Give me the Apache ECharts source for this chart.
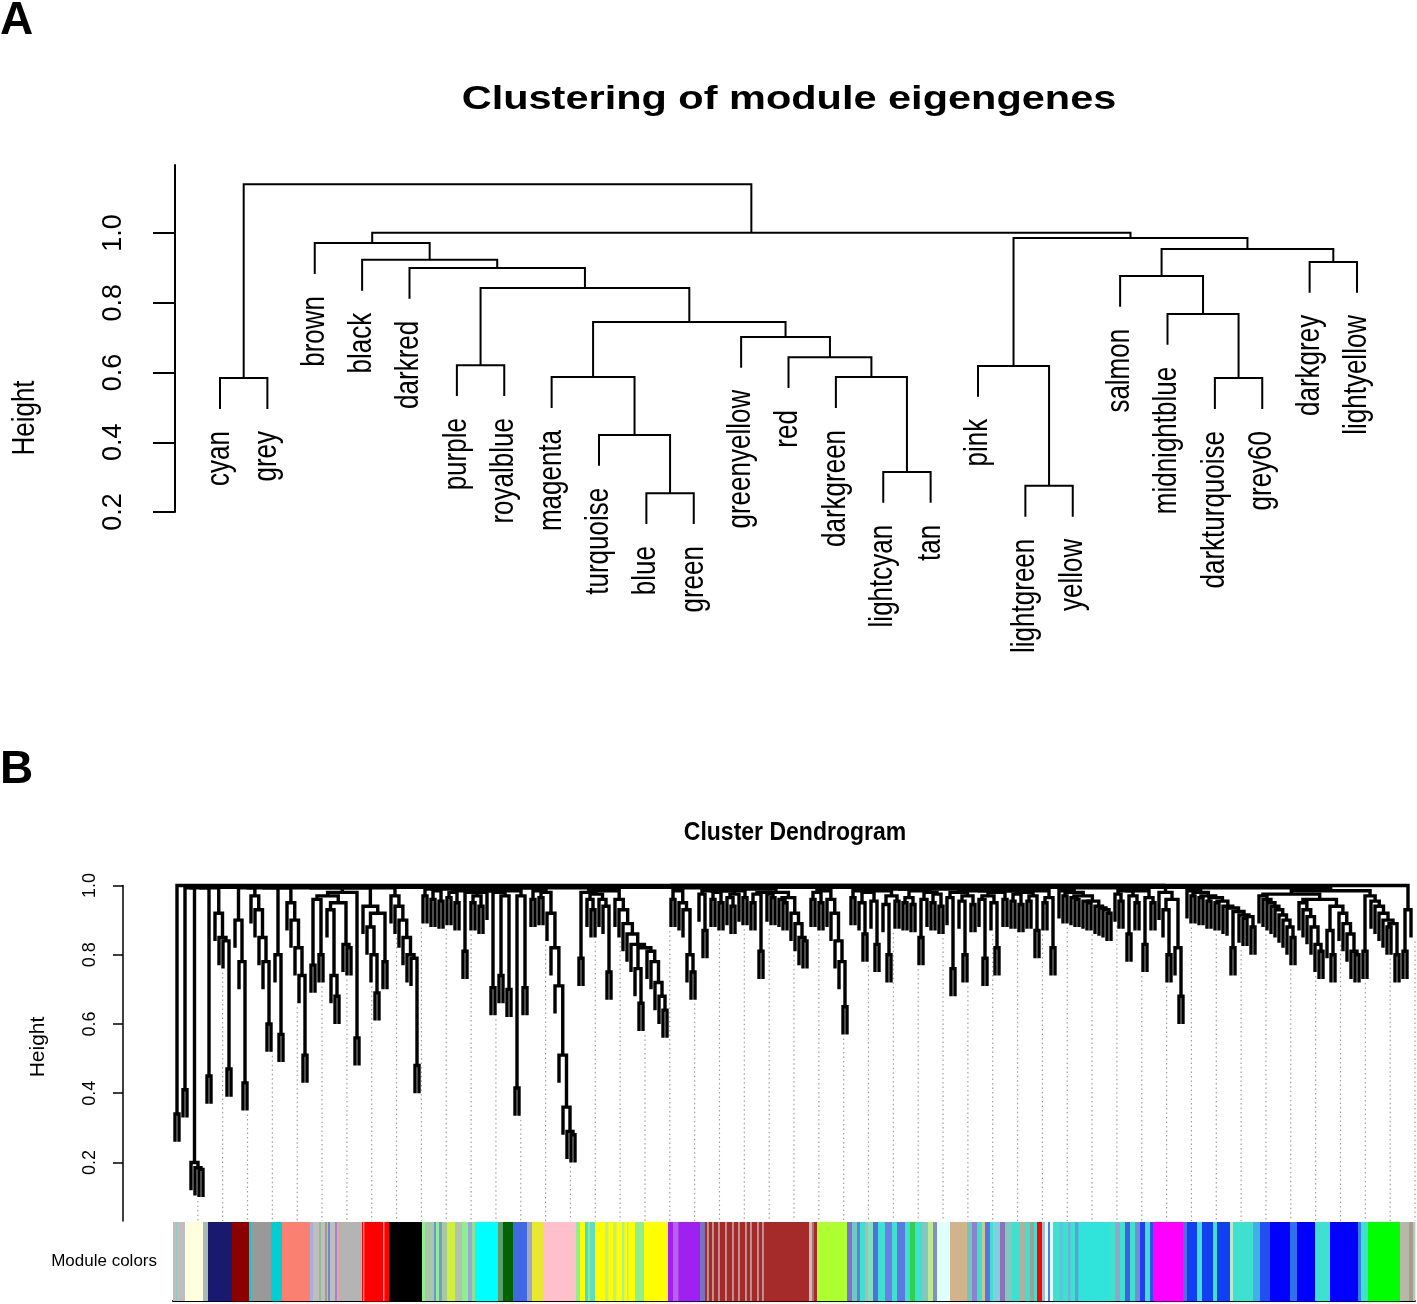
<!DOCTYPE html>
<html>
<head>
<meta charset="utf-8">
<script src="https://cdn.jsdelivr.net/npm/echarts@6/dist/echarts.min.js"></script>
<style>
html,body{margin:0;padding:0;background:#fff}
#chart{width:1417px;height:1304px}
</style>
</head>
<body>
<div id="chart"></div>
<script>
// ---- panel A : clustering of module eigengenes ----
var moduleNames = ['cyan','grey','brown','black','darkred','purple','royalblue','magenta',
  'turquoise','blue','green','greenyellow','red','darkgreen','lightcyan','tan','pink',
  'lightgreen','yellow','salmon','midnightblue','darkturquoise','grey60','darkgrey','lightyellow'];
// R hclust style: negative = leaf (1-based, plotted order), positive = earlier merge
var eigenMerges = [[-10,-11],[-18,-19],[-15,-16],[-9,1],[-1,-2],[-22,-23],[-8,4],[-14,3],
  [-17,2],[-6,-7],[-13,8],[-12,11],[7,12],[-21,6],[10,13],[-20,14],[-5,15],[-24,-25],
  [-4,17],[16,18],[-3,19],[9,20],[21,22],[5,23]];
var eigenHeights = [0.254,0.275,0.315,0.421,0.584,0.584,0.587,0.587,0.619,0.621,0.644,
  0.702,0.745,0.768,0.842,0.877,0.900,0.917,0.923,0.954,0.971,0.986,1.001,1.140];
var eigenTicks = [0.2,0.4,0.6,0.8,1.0];

// ---- panel B : gene cluster dendrogram ----
// height at which neighbouring tree columns join (left to right)
var gapsLeft = [0.34,1.00,0.41,0.993,0.20,0.185,0.18,0.993,0.45,0.993,
  0.92,0.85,0.84,0.47,0.995,0.90,0.78,0.43,0.993,0.97,
  0.93,0.85,0.78,0.60,0.993,0.80,0.57,0.993,0.95,0.90,
  0.82,0.74,0.51,0.993,0.77,0.96,0.80,0.97,0.93,0.74,
  0.68,0.95,0.83,0.82,0.98,0.56,0.993,0.94,0.88,0.80,
  0.69,0.92,0.78,0.993,0.97,0.94,0.90,0.85,0.80,0.79,
  0.48,0.995,0.97,0.99,0.96,0.985,0.955,0.99,0.965,0.98,
  0.95,0.985,0.81,0.98,0.95,0.97,0.94,0.98,0.985,0.705,
  0.98,0.74,0.97,0.70,0.985,0.415,0.97,0.705,0.993,0.96,
  0.985,0.965,0.98,0.92,0.82,0.71,0.51,0.36,0.29,0.28];
var gapsMidLeft = [0.993,0.79,0.98,0.96,0.93,0.975,0.96,0.94,0.75,0.985,
  0.96,0.93,0.89,0.86,0.83,0.76,0.66,0.82,0.81,0.78,
  0.72,0.68,0.64,0.995,0.96,0.985,0.95,0.93,0.80,0.75,
  0.993,0.975,0.87,0.985,0.96,0.98,0.95,0.985,0.965,0.94,
  0.975,0.985,0.965,0.99,0.95,0.975,0.81,0.98,0.975,0.965,
  0.98,0.96,0.95,0.965,0.92,0.89,0.85,0.84,0.995,0.96,
  0.98,0.95,0.985,0.96,0.92,0.84,0.78,0.65,0.995];
var gapsMidRight = [0.965,0.985,0.95,0.86,0.98,0.955,0.83,0.985,0.945,0.80,
  0.97,0.955,0.99,0.95,0.965,0.945,0.985,0.85,0.96,0.98,
  0.95,0.975,0.94,0.99,0.965,0.76,0.98,0.955,0.80,0.97,
  0.945,0.985,0.96,0.79,0.97,0.95,0.82,0.98,0.96,
  0.985,0.955,0.975,0.945,0.98,0.955,0.97,0.87,0.985,0.95,0.965,0.82,
  0.995,
  0.985,0.97,0.98,0.965,0.96,0.97,0.955,0.95,0.955,0.94,0.935,0.93,0.92,
  0.993,
  0.975,0.955,0.985,0.86,0.97,0.95,0.985,0.83,0.965,0.95,
  0.995];
var gapsRight = [0.98,0.93,0.80,0.96,0.82,0.68,
  0.995,
  0.985,0.97,0.98,0.965,0.97,0.955,0.965,0.95,0.955,0.94,0.935,0.82,0.925,0.915,0.905,0.91,0.88,
  0.993,
  0.97,0.96,0.95,0.94,0.93,0.915,0.90,0.88,0.85,
  0.975,
  0.95,0.93,0.91,0.88,0.83,0.81,
  0.96,
  0.87,0.80,
  0.94,
  0.92,0.89,0.86,0.81,0.80,
  0.985,
  0.81,0.97,0.955,0.94,0.92,0.90,0.88,0.89,0.80,
  1.00,
  0.81,0.93];
var geneTicks = [0.2,0.4,0.6,0.8,1.0];
var genesPerColumn = 4;
var geneCount = 1242;
var guideCount = 50;
var leafHang = 0.08;
// module colour bar: [first gene rank, last gene rank, colour]
var moduleBlocks = [
  [0,3,'#bebebe'],[3,4,'#8fc9c0'],[4,12,'#bebebe'],[12,30,'#ffffe0'],[30,35,'#a8bdb0'],
  [35,59,'#191970'],[59,76,'#8b0000'],[76,78,'#00ced1'],[78,98,'#999999'],[98,109,'#00ced1'],
  [109,137,'#fa8072'],[137,140,'#a8b0d8'],[140,146,'#bebebe'],[146,148,'#8fbc8f'],[148,152,'#bebebe'],
  [152,154,'#a0a070'],[154,155,'#bebebe'],[155,157,'#6f86e0'],[157,162,'#bebebe'],[162,164,'#a585c0'],
  [164,166,'#d8a8b8'],[166,169,'#c0b0a0'],[169,189,'#b4b4b4'],
  [189,216,'#ff0000'],[190,191,'#ff8080'],[210,211,'#ff9090'],
  [216,249,'#000000'],
  [249,252,'#90ee90'],[252,261,'#a8c8a8'],[261,263,'#7090e0'],[263,266,'#90ee90'],[266,269,'#7a94d8'],
  [269,274,'#a8c8a0'],[274,282,'#d0f040'],[282,289,'#b0c4b0'],[289,295,'#90ee90'],[295,299,'#98a8d8'],
  [299,302,'#90e090'],[302,325,'#00ffff'],[325,330,'#5f9f6f'],[330,340,'#006400'],[340,354,'#4169e1'],
  [354,359,'#a0a8c8'],[359,370,'#e8e830'],[370,403,'#ffc0cb'],[403,407,'#90ee90'],[407,412,'#ffff00'],
  [412,415,'#40e0d0'],[415,417,'#90ee90'],[417,422,'#60dcc0'],
  [422,462,'#ffff00'],[432,435,'#c8f070'],[440,443,'#c8f070'],[449,451,'#b0ee90'],[454,455,'#b0ee90'],
  [462,471,'#90ee90'],[471,495,'#ffff00'],
  [495,527,'#a020f0'],[500,505,'#b860f0'],[527,532,'#7a70c0'],
  [532,636,'#a52a2a'],[534,535.5,'#c49494'],[539,540.5,'#c49494'],[545,546.5,'#c49494'],[552,553.5,'#c49494'],
  [559,560.5,'#c49494'],[565,566.5,'#c49494'],[572,573.5,'#c49494'],[577,578.5,'#c49494'],[584,585.5,'#c49494'],
  [589,590.5,'#c49494'],
  [636,639,'#c0c0c0'],[639,641,'#b07070'],[641,644,'#a52a2a'],[644,674,'#adff2f'],
  [674,679,'#8070d0'],[679,684,'#70c8c0'],[684,687,'#6080e0'],[687,692,'#40e0d0'],[692,695,'#b0b8b8'],
  [695,700,'#80e0c0'],[700,705,'#5070e0'],[705,712,'#40e0d0'],[712,719,'#6a80e8'],[719,724,'#40e0d0'],
  [724,732,'#5a7ae0'],[732,737,'#40e0d0'],[737,742,'#30d050'],[742,749,'#40e0d0'],[749,755,'#80c8c0'],
  [755,760,'#c0e890'],[760,764,'#8090c0'],[764,777,'#e0ffff'],[777,794,'#d2b48c'],
  [794,799,'#70c8b8'],[799,804,'#9080d0'],[804,809,'#40e0d0'],[809,812,'#c8c890'],[812,817,'#6070e0'],
  [817,820,'#40e0d0'],[820,827,'#80d0e0'],[827,832,'#8c74b4'],[832,839,'#80c8c0'],[839,847,'#40e0d0'],
  [847,853,'#b0b0a0'],[853,857,'#40e0d0'],[857,861,'#a0a090'],[861,864,'#40e0d0'],[864,869,'#ff0000'],
  [869,872,'#a0c0d0'],[872,875,'#f0f8ff'],[875,877,'#5080e0'],[877,880,'#e0ffff'],
  [880,907,'#40e0d0'],[887,889,'#60c0e0'],[895,897,'#70b0e0'],[902,905,'#50a8d8'],[907,937,'#30e4dc'],
  [937,942,'#40e0d0'],[942,947,'#90a8c8'],[947,952,'#40e0d0'],[952,957,'#4060e0'],[957,962,'#40e0d0'],
  [962,967,'#7090d0'],[967,972,'#2040f0'],[972,977,'#40e0d0'],[977,980,'#3050e8'],[980,1010,'#ff00ff'],
  [1010,1014,'#5070e0'],[1014,1024,'#1040f0'],[1024,1029,'#40e0d0'],[1029,1040,'#1040f0'],[1040,1044,'#40e0d0'],
  [1044,1057,'#1040f0'],[1057,1060,'#b8e8c8'],[1060,1080,'#40e0d0'],[1080,1087,'#40b0e8'],[1087,1097,'#2050f0'],
  [1097,1117,'#0000ff'],[1117,1124,'#3070f0'],[1124,1142,'#0000ff'],[1142,1157,'#40e0d0'],[1157,1185,'#0000ff'],
  [1185,1188,'#3080e8'],[1188,1195,'#40e0d0'],[1195,1227,'#00ff00'],[1227,1236,'#b8b8a8'],[1236,1240,'#a89c88'],
  [1240,1242,'#a0d0c0']
];

var FONT = '"Liberation Sans", Arial, Helvetica, sans-serif';

// build panel A links the way plot.hclust does (node x = midpoint of its two children)
var hangA = 0.1 * (Math.max.apply(null, eigenHeights) - Math.min.apply(null, eigenHeights));
var nodeX = [], eigenLinks = [], eigenLeaves = [];
eigenMerges.forEach(function (m, k) {
  var h = eigenHeights[k];
  var ends = m.map(function (c) {
    if (c < 0) {
      eigenLeaves[-c - 1] = [-c - 1, h - hangA];
      return [-c - 1, h - hangA];
    }
    return [nodeX[c - 1], eigenHeights[c - 1]];
  });
  nodeX[k] = (ends[0][0] + ends[1][0]) / 2;
  eigenLinks.push([ends[0][0], ends[1][0], h, ends[0][1], ends[1][1]]);
});

// build panel B tree by joining the lowest neighbouring pair first
var geneGaps = gapsLeft.concat(gapsMidLeft, gapsMidRight, gapsRight);
var nCols = geneGaps.length + 1;
var clusters = [], gaps = geneGaps.slice(), colTip = [], geneLinks = [];
for (var i = 0; i < nCols; i++) clusters.push({x: i * genesPerColumn + genesPerColumn / 2, h: null, leaf: i});
while (clusters.length > 1) {
  var k = 0;
  for (var j = 1; j < gaps.length; j++) if (gaps[j] < gaps[k]) k = j;
  var g = gaps[k], L = clusters[k], R = clusters[k + 1];
  var bl = L.h === null ? g - leafHang : L.h;
  var br = R.h === null ? g - leafHang : R.h;
  if (L.h === null) colTip[L.leaf] = bl;
  if (R.h === null) colTip[R.leaf] = br;
  geneLinks.push([L.x, R.x, g, bl, br]);
  clusters.splice(k, 2, {x: (L.x + R.x) / 2, h: g});
  gaps.splice(k, 1);
}
var guides = [];
for (var q = 0; q < guideCount; q++) {
  var r = (q + 1) * geneCount / guideCount;
  var col = Math.min(nCols - 1, Math.floor(r / genesPerColumn));
  guides.push([r, colTip[col]]);
}
var bMin = 0.031;

function linkRenderer(width) {
  return function (params, api) {
    var a = api.coord([api.value(0), api.value(3)]);
    var b = api.coord([api.value(0), api.value(2)]);
    var c = api.coord([api.value(1), api.value(2)]);
    var d = api.coord([api.value(1), api.value(4)]);
    return {type: 'polyline', shape: {points: [a, b, c, d]},
      style: {stroke: '#000', fill: 'none', lineWidth: width, lineJoin: 'miter'}};
  };
}

var chart = echarts.init(document.getElementById('chart'), null, {renderer: 'canvas'});
chart.setOption({
  animation: false,
  backgroundColor: '#fff',
  grid: [
    {left: 220, top: 165, width: 1137, height: 347},
    {left: 173, top: 885.5, width: 1242, height: 335.5},
    {left: 173, top: 1222, width: 1242, height: 79}
  ],
  xAxis: [
    {gridIndex: 0, type: 'value', min: 0, max: 24, show: false},
    {gridIndex: 1, type: 'value', min: 0, max: geneCount, show: false},
    {gridIndex: 2, type: 'value', min: 0, max: geneCount,
      axisLine: {show: true, onZero: false, lineStyle: {color: '#000', width: 2}},
      axisTick: {show: false}, axisLabel: {show: false}, splitLine: {show: false}}
  ],
  yAxis: [
    {gridIndex: 0, type: 'value', min: 0.2, max: 1.195, offset: 45,
      axisLine: {show: true, onZero: false, lineStyle: {color: '#000', width: 2}},
      axisTick: {show: true, length: 22, lineStyle: {color: '#000', width: 2}, customValues: eigenTicks},
      axisLabel: {customValues: eigenTicks, rotate: 90, margin: 48, fontSize: 27, fontFamily: FONT, color: '#000',
        formatter: function (v) { return v.toFixed(1); }},
      splitLine: {show: false}},
    {gridIndex: 1, type: 'value', min: bMin, max: 1.0, offset: 50,
      axisLine: {show: true, onZero: false, lineStyle: {color: '#000', width: 1.5}},
      axisTick: {show: true, length: 10, lineStyle: {color: '#000', width: 1.5}, customValues: geneTicks},
      axisLabel: {customValues: geneTicks, rotate: 90, margin: 24, fontSize: 18, fontFamily: FONT, color: '#000',
        formatter: function (v) { return v.toFixed(1); }},
      splitLine: {show: false}},
    {gridIndex: 2, type: 'value', min: 0, max: 1, show: false}
  ],
  graphic: [
    {type: 'text', x: 0, y: 21, style: {text: 'A', fontSize: 46, fontWeight: 'bold', fontFamily: FONT, fill: '#000', verticalAlign: 'middle'}},
    {type: 'text', x: 0, y: 770, style: {text: 'B', fontSize: 46, fontWeight: 'bold', fontFamily: FONT, fill: '#000', verticalAlign: 'middle'}},
    {type: 'text', x: 789, y: 100, scaleX: 1.22, style: {text: 'Clustering of module eigengenes', fontSize: 34, fontWeight: 'bold', fontFamily: FONT, fill: '#000', align: 'center', verticalAlign: 'middle'}},
    {type: 'text', x: 25, y: 418, rotation: Math.PI / 2, scaleY: 1.24, style: {text: 'Height', fontSize: 26, fontFamily: FONT, fill: '#000', align: 'center', verticalAlign: 'middle'}},
    {type: 'text', x: 795, y: 833, scaleY: 1.1, style: {text: 'Cluster Dendrogram', fontSize: 23, fontWeight: 'bold', fontFamily: FONT, fill: '#000', align: 'center', verticalAlign: 'middle'}},
    {type: 'text', x: 38, y: 1047, rotation: Math.PI / 2, style: {text: 'Height', fontSize: 21, fontFamily: FONT, fill: '#000', align: 'center', verticalAlign: 'middle'}},
    {type: 'text', x: 157, y: 1261, style: {text: 'Module colors', fontSize: 17, fontFamily: FONT, fill: '#000', align: 'right', verticalAlign: 'middle'}}
  ],
  series: [
    {type: 'custom', xAxisIndex: 0, yAxisIndex: 0, data: eigenLinks, renderItem: linkRenderer(2)},
    {type: 'custom', xAxisIndex: 0, yAxisIndex: 0, data: eigenLeaves,
      renderItem: function (params, api) {
        var p = api.coord([api.value(0), api.value(1)]);
        return {type: 'text', x: p[0], y: p[1] + 22, rotation: Math.PI / 2, scaleY: 1.25,
          style: {text: moduleNames[params.dataIndex], fontSize: 26, fontFamily: FONT, fill: '#000',
            align: 'right', verticalAlign: 'middle'}};
      }},
    {type: 'custom', xAxisIndex: 1, yAxisIndex: 1, data: guides,
      renderItem: function (params, api) {
        var a = api.coord([api.value(0), api.value(1)]);
        var b = api.coord([api.value(0), bMin]);
        return {type: 'line', shape: {x1: a[0], y1: a[1] + 4, x2: b[0], y2: b[1]},
          style: {stroke: '#a0a0a0', lineWidth: 1.2, lineDash: [1.5, 3]}};
      }},
    {type: 'custom', xAxisIndex: 1, yAxisIndex: 1, data: geneLinks, renderItem: linkRenderer(3.4)},
    {type: 'custom', xAxisIndex: 2, yAxisIndex: 2,
      data: moduleBlocks.map(function (b) { return [b[0], b[1]]; }),
      renderItem: function (params, api) {
        var p0 = api.coord([api.value(0), 1]);
        var p1 = api.coord([api.value(1), 0]);
        return {type: 'rect', shape: {x: p0[0], y: p0[1], width: p1[0] - p0[0] + 0.4, height: p1[1] - p0[1]},
          style: {fill: moduleBlocks[params.dataIndex][2]}};
      }}
  ]
});
</script>
</body>
</html>
